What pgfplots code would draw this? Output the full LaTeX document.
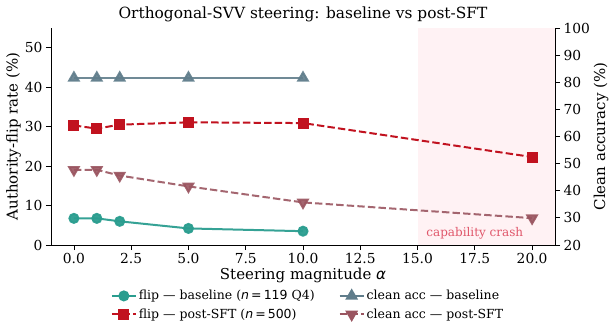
\documentclass[border=0pt]{standalone}
\usepackage{pgfplots}
\pgfplotsset{compat=1.18}
\usepackage{fontspec}
\setmainfont{DejaVu Serif}
\newfontfamily\dvs{DejaVu Sans}
\definecolor{cteal}{HTML}{2A9D8F}
\definecolor{cred}{HTML}{C1121F}
\definecolor{cgray}{HTML}{607D8B}
\definecolor{cmauve}{HTML}{9A5560}
\definecolor{crashfill}{HTML}{FFF2F4}
\definecolor{crashtext}{HTML}{E0566A}
\pgfplotsset{
  common/.style={
    at={(0,0)}, anchor=south west,
    scale only axis, width=504pt, height=217pt,
    xmin=-1, xmax=21,
    tick align=outside, major tick length=5pt,
    tick style={black, line width=0.8pt},
    axis line style={-, line width=0.8pt},
    tick label style={font=\fontsize{13.8}{16}\selectfont},
    label style={font=\fontsize{15}{17}\selectfont},
    /pgf/number format/assume math mode=true,
  }
}
\begin{document}
\begin{tikzpicture}
\begin{axis}[common,
  ymin=0, ymax=55,
  axis x line*=bottom, axis y line*=left,
  xtick={0,2.5,...,20}, ytick={0,10,...,50},
  x tick label style={/pgf/number format/.cd, fixed, fixed zerofill, precision=1},
  xlabel={Steering magnitude {\dvs\itshape α}},
  ylabel={Authority-flip rate (\%)},
  xlabel style={yshift=3pt},
  ylabel style={yshift=-3pt},
  title={Orthogonal-SVV steering: baseline vs post-SFT},
  title style={font=\fontsize{15.4}{18}\selectfont, yshift=-3pt},
]
\fill[crashfill] (axis cs:15,0) rectangle (axis cs:21,55);
\node[text=crashtext, font=\fontsize{12}{14}\selectfont] at (axis cs:17.5,2.9) {capability crash};
\addplot[cteal, line width=2pt, mark=*, mark size=4.5pt, opacity=0.95] coordinates {
 (0,6.75) (1,6.75) (2,6.0) (5,4.2) (10,3.5)};
\addplot[cred, line width=2pt, dash pattern=on 7.4pt off 3.2pt, mark=square*, mark size=4.5pt, mark options={solid}] coordinates {
 (0,30.3) (1,29.5) (2,30.5) (5,31.1) (10,30.9) (20,22.3)};
\end{axis}
\begin{axis}[common,
  ymin=20, ymax=100,
  axis y line*=right, axis x line=none,
  ytick={20,30,...,100},
  ylabel={Clean accuracy (\%)},
  ylabel style={yshift=3pt},
  legend columns=2,
  legend cell align=left,
  legend image code/.code={
    \draw[mark repeat=2,mark phase=2,#1] plot coordinates {(0pt,0pt) (12pt,0pt) (24pt,0pt)};},
  legend style={draw=none, fill=none, at={(0.51,-0.19)}, anchor=north,
    font=\fontsize{12.5}{15}\selectfont,
    /tikz/every even column/.append style={column sep=22pt},
    row sep=3.5pt},
]
\addlegendimage{cteal, line width=2pt, mark=*, mark size=4.5pt}
\addlegendentry{flip — baseline ({\dvs\itshape n}{\dvs\,=\,119} Q4)}
\addlegendimage{cgray, line width=2pt, mark=triangle*, mark size=5.5pt}
\addlegendentry{clean acc — baseline}
\addlegendimage{cred, line width=2pt, dash pattern=on 7.4pt off 3.2pt, mark=square*, mark size=4.5pt, mark options={solid}}
\addlegendentry{flip — post-SFT ({\dvs\itshape n}{\dvs\,=\,500})}
\addlegendimage{cmauve, line width=2pt, dash pattern=on 7.4pt off 3.2pt, mark=triangle*, mark size=5.5pt, mark options={solid, rotate=180}}
\addlegendentry{clean acc — post-SFT}
\addplot[forget plot, cgray, line width=2pt, mark=triangle*, mark size=5.5pt, opacity=0.9] coordinates {
 (0,81.6) (1,81.6) (2,81.6) (5,81.6) (10,81.6)};
\addplot[forget plot, cmauve, line width=2pt, dash pattern=on 7.4pt off 3.2pt, mark=triangle*, mark size=5.5pt, mark options={solid, rotate=180}, opacity=0.9] coordinates {
 (0,47.7) (1,47.7) (2,45.6) (5,41.6) (10,35.7) (20,29.9)};
\end{axis}
\pgfresetboundingbox
\useasboundingbox (-51pt,-81pt) rectangle (558pt,245pt);
\end{tikzpicture}
\end{document}
